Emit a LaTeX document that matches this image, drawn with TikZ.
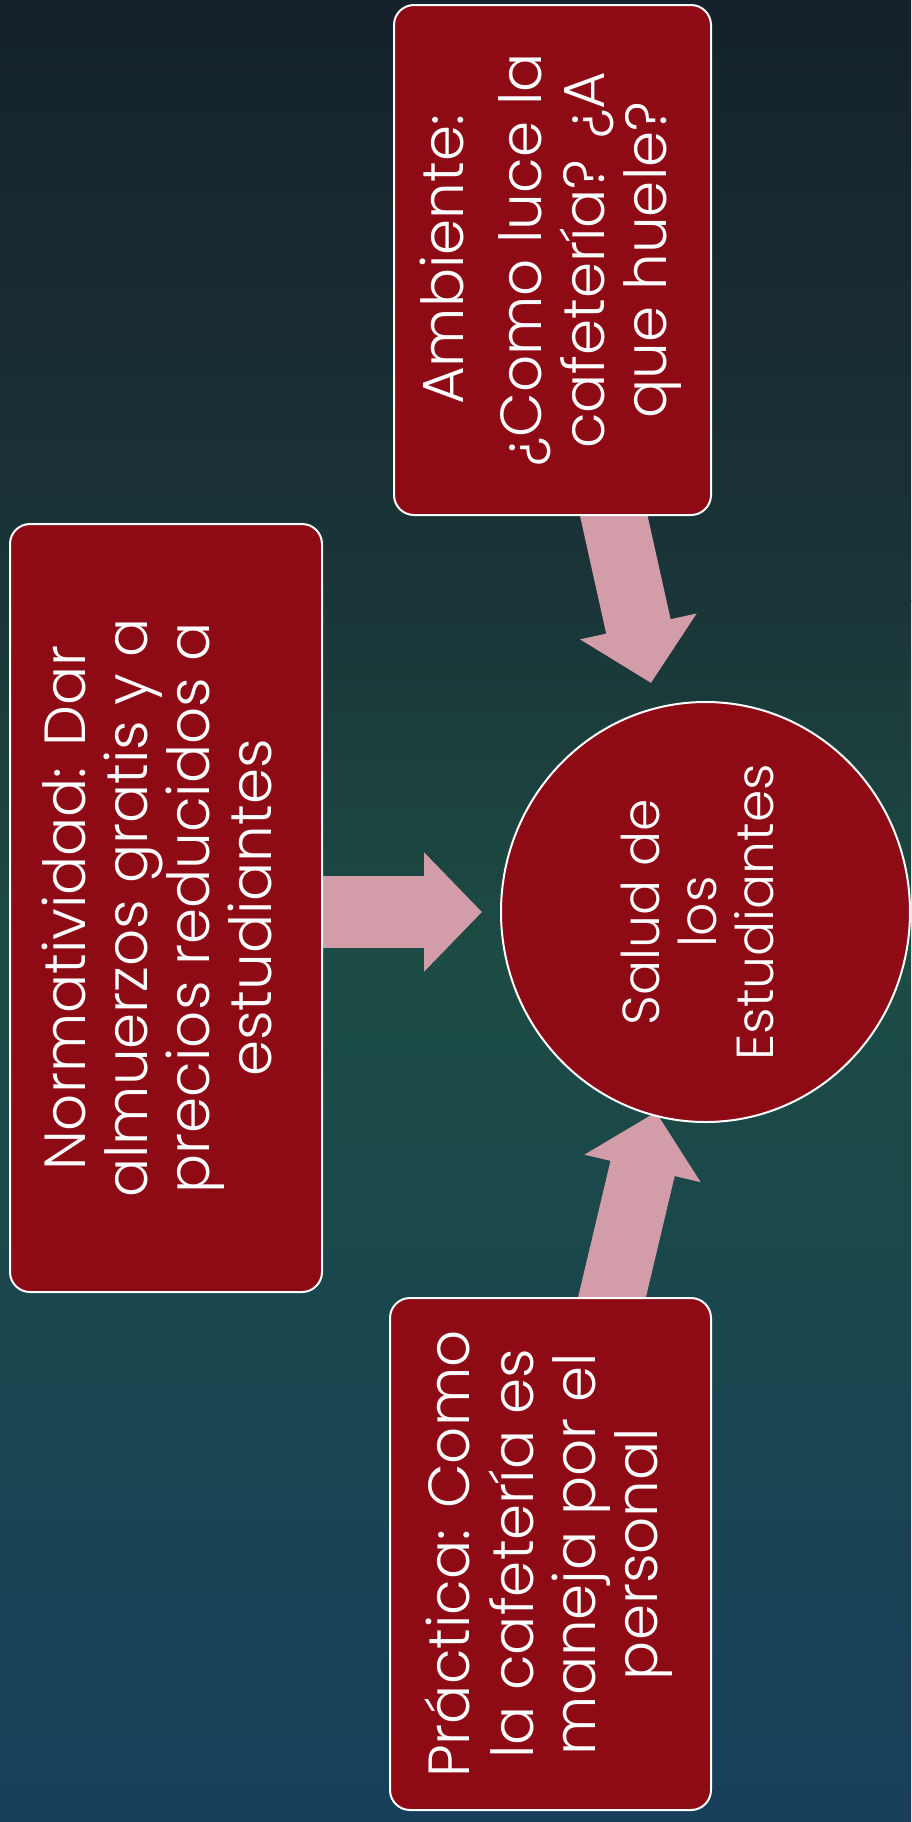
\documentclass[tikz,border=0pt]{standalone}
\usepackage{fontspec}
\usepackage{graphicx}
\setmainfont{Poppins Light}
\usetikzlibrary{positioning,arrows.meta,calc,shapes.geometric}

\definecolor{slidetop}{HTML}{15212B}
\definecolor{slideupper}{HTML}{1A3538}
\definecolor{slidemid}{HTML}{1C4C43}
\definecolor{slidebot}{HTML}{173F5C}
\definecolor{boxred}{HTML}{8E0A15}
\definecolor{arrowpink}{HTML}{D29CA9}

% rotated, centred lines of text
\newcommand{\vlines}[1]{\rotatebox{90}{\begin{tabular}{@{}c@{}}#1\end{tabular}}}

\pgfdeclarelayer{bg}
\pgfdeclarelayer{under}
\pgfsetlayers{bg,under,main}

\begin{document}
\begin{tikzpicture}[
  x=0.5pt, y=-0.5pt,
  % Rounded red cards with white rim
  card/.style={rectangle, rounded corners=10pt, draw=white, line width=1pt,
    fill=boxred, text=white, inner sep=0pt,
    font=\fontsize{29}{31}\selectfont},
  % Red disc for the target
  target/.style={ellipse, draw=white, line width=1pt, fill=boxred,
    text=white, inner sep=0pt, minimum width=204.5pt, minimum height=210pt,
    font=\fontsize{26}{28.5}\selectfont},
  % Fat pink block arrows
  bigarrow/.style={draw=arrowpink, line width=33pt,
    -{Triangle[length=29pt, width=58pt]}},
]
  % === Background ===
  \begin{pgfonlayer}{bg}
    \shade[top color=slidetop, bottom color=slideupper] (0,0) rectangle (911,601);
    \shade[top color=slideupper, bottom color=slidemid] (0,600) rectangle (911,951);
    \shade[top color=slidemid, bottom color=slidebot] (0,950) rectangle (911,1822);
  \end{pgfonlayer}
  \useasboundingbox (0,0) rectangle (911,1822);

  % === Target ===
  \node[target] (salud) at (705.5,912) {\vlines{Salud de\\los\\Estudiantes}};

  % === Cards ===
  \node[card, minimum width=156pt, minimum height=384pt] (norma) at (166,908)
    {\vlines{Normatividad: Dar\\almuerzos gratis y a\\precios reducidos a\\estudiantes}};
  \node[card, minimum width=158.5pt, minimum height=255pt] (ambiente) at (552.5,260)
    {\vlines{Ambiente:\\[8pt]¿Como luce la\\cafetería? ¿A\\que huele?}};
  \node[card, minimum width=160.5pt, minimum height=256pt] (practica) at (550.5,1554)
    {\vlines{Práctica: Como\\la cafetería es\\maneja por el\\personal}};

  % === Arrows into the target ===
  \begin{pgfonlayer}{under}
    \draw[bigarrow, line width=36pt] ($(norma.east |- salud.west)+(-15,0)$)
      -- ($(salud.west)+(-18,0)$);
    \draw[bigarrow] ($(ambiente.south)+(58,-15)$) -- ($(salud.center)+(-54.5,-229)$);
    \draw[bigarrow] ($(practica.north)+(58,15)$) -- ($(salud.center)+(-49.5,200)$);
  \end{pgfonlayer}
\end{tikzpicture}
\end{document}
